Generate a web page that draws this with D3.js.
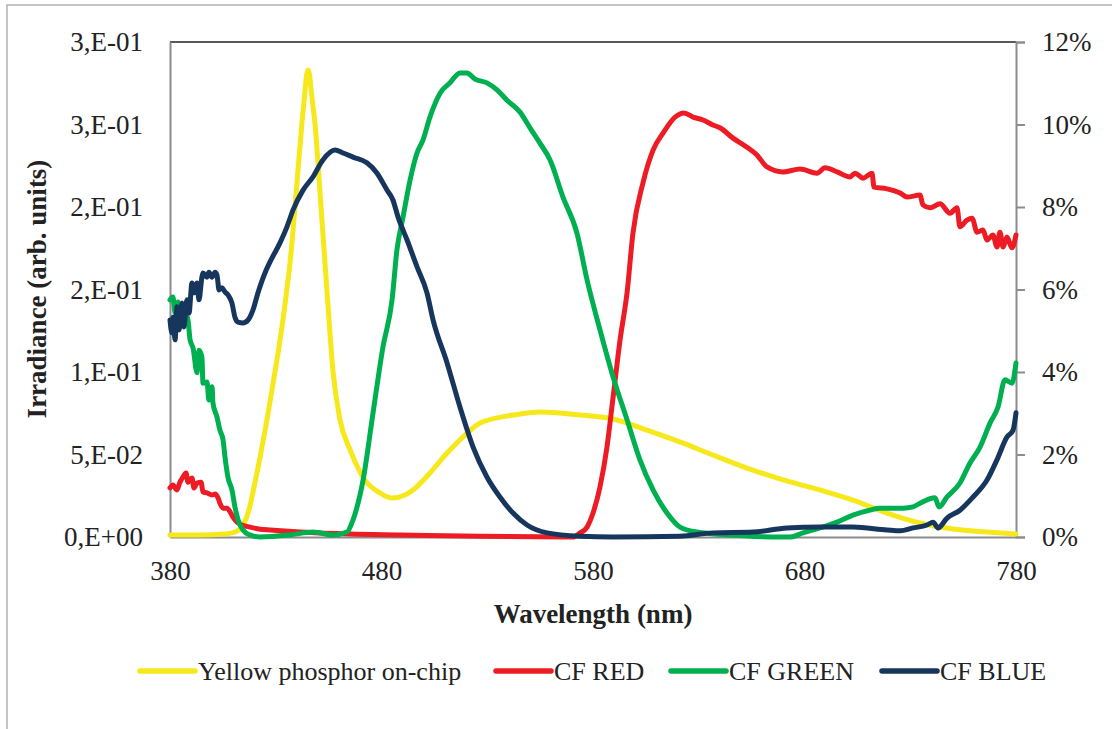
<!DOCTYPE html>
<html>
<head>
<meta charset="utf-8">
<script src="https://cdn.jsdelivr.net/npm/d3@7"></script>
<style>
  body { margin: 0; background: #fff; }
  svg text { font-family: "Liberation Serif", "Times New Roman", serif; fill: #222; }
</style>
</head>
<body>
<div id="container"></div>
<script>
const width = 1112;
const height = 729;

// Left axis ticks (Excel style labels)
const leftTicks = [0, 0.05, 0.1, 0.15, 0.2, 0.25, 0.3];
const leftLabels = ["0,E+00", "5,E-02", "1,E-01", "2,E-01", "2,E-01", "3,E-01", "3,E-01"];
// Right axis ticks (%)
const rightTicks = [0, 2, 4, 6, 8, 10, 12];
const xTicks = [380, 480, 580, 680, 780];

// Yellow phosphor on-chip : [wavelength nm, irradiance] (left axis)
const yellowData = [
	[380, 0.0012], [394, 0.0012], [406, 0.0018], [410.7, 0.003], [414, 0.0061],
	[416.9, 0.0145], [420, 0.032], [424, 0.058], [428.2, 0.089], [433, 0.128],
	[437.2, 0.172], [440, 0.214], [442.4, 0.251], [443.8, 0.27], [444.6, 0.28],
	[445.3, 0.283], [446, 0.28], [446.8, 0.27], [448.6, 0.2497], [451.4, 0.2],
	[454.2, 0.1497], [457.1, 0.1], [460.4, 0.0709], [465.1, 0.053], [472.2, 0.0345],
	[479.3, 0.0267], [485, 0.0236], [491.1, 0.0255], [494.9, 0.0285], [502.9, 0.0388],
	[511, 0.0509], [519.5, 0.0618], [526.6, 0.0691], [542.2, 0.0739], [554.9, 0.0758],
	[573.9, 0.0739], [589.5, 0.0715], [605.5, 0.0648], [621.1, 0.0576], [636.7, 0.0497],
	[652.8, 0.0418], [668.4, 0.0352], [687.3, 0.0285], [702.9, 0.0224], [719, 0.0145],
	[734.6, 0.0085], [750.2, 0.0048], [766.3, 0.003], [780, 0.0018]
];

// CF RED : [wavelength nm, %] (right axis)
const redData = [
	[380, 1.19], [381.4, 1.26], [383.3, 1.14], [384.7, 1.33], [386.1, 1.45], [387.6, 1.55],
	[388.5, 1.33], [390.4, 1.43], [391.3, 1.19], [392.8, 1.31], [394.7, 1.33], [395.6, 1.09],
	[397.5, 1.07], [399.9, 1.02], [401.3, 1.04], [402.7, 0.95], [403.6, 0.82], [405.1, 0.7],
	[406.9, 0.7], [408.4, 0.61], [409.8, 0.48], [411.7, 0.36], [414, 0.29], [417.8, 0.24],
	[422.6, 0.19], [427.3, 0.17], [441.5, 0.12], [465.1, 0.07], [488.7, 0.05], [526.6, 0.02],
	[570.5, 0.0], [573.9, 0.1], [577.2, 0.24], [580, 0.58], [583.3, 1.21], [586.6, 2.18],
	[589.5, 3.39], [592.8, 4.78], [596.1, 5.92], [598.9, 7.37], [603.6, 8.58], [608.4, 9.38],
	[613.1, 9.79], [618.8, 10.18], [623, 10.28], [627.3, 10.18], [632, 10.11], [636.7, 9.99],
	[640, 9.92], [646.2, 9.67], [652.8, 9.45], [657.5, 9.26], [662.3, 8.97], [669.8, 8.85],
	[677.9, 8.92], [685.9, 8.82], [689.7, 8.95], [695.4, 8.85], [701.5, 8.73], [703.9, 8.82],
	[707.7, 8.7], [711.9, 8.82], [712.9, 8.48], [719, 8.44], [725.2, 8.34], [728.5, 8.24],
	[734.6, 8.29], [736, 8.05], [739.3, 7.98], [744.1, 8.08], [748.8, 7.85], [752.1, 7.98],
	[753.5, 7.52], [756.8, 7.68], [759.2, 7.73], [761.6, 7.39], [764.4, 7.44], [766.3, 7.2],
	[769.1, 7.32], [771, 7.03], [772.4, 7.39], [773.9, 7.03], [775.7, 7.27], [778.1, 7.01],
	[780, 7.32]
];

// CF GREEN : [wavelength nm, %] (right axis)
const greenData = [
	[380, 5.75], [381.4, 5.82], [382.4, 5.43], [383.8, 5.7], [385.7, 5.19], [387.1, 5.45],
	[388.5, 5.26], [389.5, 4.78], [390.9, 4.58], [392.8, 3.98], [393.7, 4.53], [395.1, 4.36],
	[395.6, 3.73], [397.5, 3.76], [398.4, 3.32], [399.9, 3.64], [400.3, 3.25], [402.2, 2.91],
	[403.6, 2.59], [405.1, 2.35], [406, 1.94], [407.4, 1.45], [409.3, 1.14], [410.7, 0.73],
	[412.2, 0.41], [414.5, 0.17], [417.8, 0.05], [422.6, 0.0], [436.7, 0.05], [447.6, 0.12],
	[457.1, 0.05], [463.7, 0.12], [466.5, 0.41], [471.3, 1.38], [476, 3.01], [480.7, 4.61],
	[485, 5.75], [487.3, 6.96], [490.2, 7.76], [493.5, 8.65], [496.8, 9.31], [499.6, 9.62],
	[502.9, 10.18], [507.7, 10.76], [512.4, 11.01], [517.1, 11.25], [520.4, 11.25],
	[524.2, 11.1], [529.9, 11.01], [534.6, 10.84], [539.3, 10.59], [545.5, 10.3], [550.2, 9.92],
	[554.9, 9.55], [559.7, 9.14], [565.8, 8.24], [572.4, 7.37], [577.2, 6.23], [583.3, 5.02],
	[589.5, 3.88], [596.1, 2.84], [602.2, 1.87], [608.4, 1.14], [615, 0.58], [621.1, 0.24],
	[629.2, 0.12], [644.8, 0.05], [668.4, 0.0], [673.1, 0.0], [679.3, 0.1], [687.3, 0.22],
	[695.4, 0.36], [702.9, 0.53], [711, 0.65], [715.7, 0.7], [726.6, 0.7], [731.3, 0.73],
	[734.6, 0.82], [741.7, 0.95], [743.6, 0.73], [747.4, 0.97], [753.5, 1.31], [758.2, 1.79],
	[763, 2.18], [767.7, 2.76], [771.5, 3.15], [774.8, 3.81], [778.1, 3.73], [780, 4.22]
];

// CF BLUE : [wavelength nm, %] (right axis)
const blueData = [
	[380, 5.26], [380.9, 4.95], [381.4, 5.33], [382.4, 4.78], [383.3, 5.58], [384.3, 5.02],
	[385.7, 5.67], [386.6, 5.09], [388, 5.75], [389, 5.43], [390.4, 6.16], [391.3, 5.92],
	[392.8, 6.16], [393.7, 5.75], [395.1, 6.3], [395.6, 6.4], [397.5, 6.3], [398.4, 6.42],
	[399.9, 6.3], [401.3, 6.42], [402.2, 6.35], [403.2, 5.99], [404.6, 6.04], [406, 5.94],
	[407.4, 5.87], [409.3, 5.67], [410.7, 5.33], [412.2, 5.21], [414.5, 5.19], [416.9, 5.26],
	[419.2, 5.5], [421.6, 5.92], [424.9, 6.4], [427.3, 6.67], [432, 7.13], [435.3, 7.52],
	[438.2, 7.93], [442.9, 8.41], [447.6, 8.73], [452.3, 9.14], [458, 9.38], [461.8, 9.31],
	[466.5, 9.21], [473.1, 9.07], [477.9, 8.82], [482.6, 8.41], [485.4, 8.17], [487.8, 7.76],
	[492.1, 7.2], [496.8, 6.55], [501.5, 5.92], [504.4, 5.26], [511, 4.22], [517.1, 3.15],
	[523.3, 2.18], [529.9, 1.45], [536, 0.97], [542.2, 0.58], [548.8, 0.29], [558.3, 0.1],
	[573.9, 0.02], [589.5, 0.0], [621.1, 0.02], [636.7, 0.1], [655.7, 0.12], [671.7, 0.22],
	[687.3, 0.24], [702.9, 0.24], [719, 0.17], [725.2, 0.15], [731.3, 0.22], [737.9, 0.29],
	[740.8, 0.36], [743.1, 0.22], [747.4, 0.46], [753.5, 0.65], [759.7, 0.97], [766.3, 1.38],
	[771, 1.87], [775.7, 2.42], [778.6, 2.59], [780, 3.01]
];

const seriesNames = ["Yellow phosphor on-chip", "CF RED", "CF GREEN", "CF BLUE"];
const seriesColors = ["#f6e81b", "#ed1c24", "#00b050", "#17365d"];

const plot = { left: 170, right: 1016, top: 42, bottom: 537 };

const x = d3.scaleLinear().domain([380, 780]).range([plot.left, plot.right]);
const yLeft = d3.scaleLinear().domain([0, 0.3]).range([plot.bottom, plot.top]);
const yRight = d3.scaleLinear().domain([0, 12]).range([plot.bottom, plot.top]);

let svg = d3.select("#container")
	.append("svg")
	.attr("width", width)
	.attr("height", height);

// outer chart frame
svg.append("rect")
	.attr("x", 7).attr("y", 5)
	.attr("width", 1120).attr("height", 740)
	.attr("fill", "#fff")
	.attr("stroke", "#a6a6a6")
	.attr("stroke-width", 1.3);

// top border of plot area
svg.append("line")
	.attr("x1", plot.left).attr("x2", plot.right)
	.attr("y1", plot.top).attr("y2", plot.top)
	.attr("stroke", "#222").attr("stroke-width", 1.6);

// left axis
let gLeft = svg.append("g")
	.attr("transform", "translate(" + plot.left + ",0)")
	.call(d3.axisLeft(yLeft).tickValues(leftTicks).tickSize(0).tickPadding(27)
		.tickFormat((d, i) => leftLabels[i]));

// right axis
let gRight = svg.append("g")
	.attr("transform", "translate(" + plot.right + ",0)")
	.call(d3.axisRight(yRight).tickValues(rightTicks).tickSize(9).tickPadding(17)
		.tickFormat(d => d + "%"));

// bottom axis
let gBottom = svg.append("g")
	.attr("transform", "translate(0," + plot.bottom + ")")
	.call(d3.axisBottom(x).tickValues(xTicks).tickSize(0).tickPadding(24)
		.tickFormat(d3.format("d")));

[gLeft, gRight, gBottom].forEach(g => {
	g.select(".domain").attr("stroke", "#8c8c8c").attr("stroke-width", 2);
	g.selectAll(".tick line").attr("stroke", "#8c8c8c").attr("stroke-width", 2);
	g.selectAll(".tick text")
		.attr("font-size", 27)
		.style("font-family", "'Liberation Serif', serif")
		.attr("fill", "#222");
});
gBottom.selectAll(".tick text").attr("dy", "0.71em");

// curves
const lineLeft = d3.line().x(d => x(d[0])).y(d => yLeft(d[1])).curve(d3.curveMonotoneX);
const lineRight = d3.line().x(d => x(d[0])).y(d => yRight(d[1])).curve(d3.curveMonotoneX);

const curves = [
	{ data: yellowData, gen: lineLeft, color: seriesColors[0] },
	{ data: redData, gen: lineRight, color: seriesColors[1] },
	{ data: greenData, gen: lineRight, color: seriesColors[2] },
	{ data: blueData, gen: lineRight, color: seriesColors[3] }
];

svg.append("g")
	.selectAll("path")
	.data(curves)
	.enter()
	.append("path")
	.attr("d", d => d.gen(d.data))
	.attr("fill", "none")
	.attr("stroke", d => d.color)
	.attr("stroke-width", 5)
	.attr("stroke-linejoin", "round")
	.attr("stroke-linecap", "round");

// axis titles
svg.append("text")
	.attr("x", 593).attr("y", 623)
	.attr("text-anchor", "middle")
	.attr("font-size", 27)
	.attr("font-weight", "bold")
	.text("Wavelength (nm)");

svg.append("text")
	.attr("transform", "translate(46,289) rotate(-90)")
	.attr("text-anchor", "middle")
	.attr("font-size", 27)
	.attr("font-weight", "bold")
	.text("Irradiance (arb. units)");

// legend
const legendX = [140, 496, 671, 882];
let legend = svg.append("g")
	.selectAll("g")
	.data(seriesNames)
	.enter()
	.append("g")
	.attr("transform", (d, i) => "translate(" + legendX[i] + ",671)");

legend.append("line")
	.attr("x1", 0).attr("x2", 55)
	.attr("stroke", (d, i) => seriesColors[i])
	.attr("stroke-width", 5.5)
	.attr("stroke-linecap", "round");

legend.append("text")
	.attr("x", 58).attr("y", 9)
	.attr("font-size", 26)
	.text(d => d);
</script>
</body>
</html>
